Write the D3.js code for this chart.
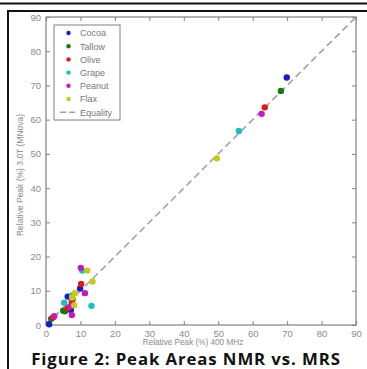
<!DOCTYPE html>
<html>
<head>
<meta charset="utf-8">
<script src="https://cdn.jsdelivr.net/npm/d3@7"></script>
<style>
  body { margin: 0; background: #fff; }
  svg { display: block; }
</style>
</head>
<body>
<div id="chart"></div>
<script>
// series names and colours (matplotlib classic)
const seriesNames = ['Cocoa', 'Tallow', 'Olive', 'Grape', 'Peanut', 'Flax'];
const seriesColors = ['#1a1acc', '#137a13', '#e01a1a', '#1ac0c0', '#c01ac0', '#c8c81a'];

// [400 MHz, 3.0T] pairs
const cocoa = [[69.9, 72.3], [9.9, 10.7], [6.3, 8.3], [7.2, 4.4], [0.9, 0.2]];
const tallow = [[68.2, 68.4], [7.7, 7.5], [5.5, 4.0], [5.0, 4.2], [1.5, 1.8]];
const olive = [[63.5, 63.6], [10.2, 12.0], [7.5, 6.8], [6.3, 4.9], [2.1, 2.3]];
const grape = [[56.0, 56.7], [10.5, 15.9], [13.2, 5.6], [7.6, 8.6], [5.3, 6.5]];
const peanut = [[62.6, 61.7], [10.1, 16.7], [11.3, 9.3], [7.0, 5.4], [7.5, 2.9], [2.4, 2.6]];
const flax = [[49.6, 48.7], [12.0, 15.9], [13.5, 12.7], [8.4, 9.3], [8.2, 5.8], [7.6, 8.0]];
const seriesValues = [cocoa, tallow, olive, grape, peanut, flax];

const tickValues = [0, 10, 20, 30, 40, 50, 60, 70, 80, 90];
const equality = [0, 90];

const W = 367, H = 369;
const m = { left: 46, top: 17, right: 356, bottom: 325 };

const svg = d3.select('#chart').append('svg')
  .attr('width', W)
  .attr('height', H);

// page frame lines
svg.append('line').attr('x1', 0).attr('x2', W).attr('y1', 3.5).attr('y2', 3.5)
  .attr('stroke', '#111').attr('stroke-width', 2);
svg.append('path').attr('d', `M8,${H} L8,11 L${W},11`)
  .attr('fill', 'none').attr('stroke', '#111').attr('stroke-width', 2);

const x = d3.scaleLinear().domain([0, 90]).range([m.left, m.right]);
const y = d3.scaleLinear().domain([0, 90]).range([m.bottom, m.top]);

const axisColor = '#808080';
const labelColor = '#8a8a8a';

function styleAxis(g, showLabels) {
  g.select('.domain').remove();
  g.selectAll('.tick line').attr('stroke', axisColor);
  g.selectAll('.tick text')
    .attr('fill', labelColor)
    .attr('font-family', 'Liberation Sans, Arial, sans-serif')
    .attr('font-size', 9.5)
    .style('display', showLabels ? null : 'none');
}

// bottom / left with labels, inward ticks
svg.append('g').attr('transform', `translate(0,${m.bottom})`)
  .call(d3.axisBottom(x).tickValues(tickValues).tickSizeInner(-4).tickSizeOuter(0).tickPadding(5))
  .call(g => styleAxis(g, true));
svg.append('g').attr('transform', `translate(${m.left},0)`)
  .call(d3.axisLeft(y).tickValues(tickValues).tickSizeInner(-4).tickSizeOuter(0).tickPadding(5))
  .call(g => styleAxis(g, true));
// top / right ticks only
svg.append('g').attr('transform', `translate(0,${m.top})`)
  .call(d3.axisTop(x).tickValues(tickValues).tickSizeInner(-4).tickSizeOuter(0))
  .call(g => styleAxis(g, false));
svg.append('g').attr('transform', `translate(${m.right},0)`)
  .call(d3.axisRight(y).tickValues(tickValues).tickSizeInner(-4).tickSizeOuter(0))
  .call(g => styleAxis(g, false));

// plot frame
svg.append('rect')
  .attr('x', m.left).attr('y', m.top)
  .attr('width', m.right - m.left).attr('height', m.bottom - m.top)
  .attr('fill', 'none').attr('stroke', axisColor).attr('stroke-width', 1.2);

// equality line
svg.append('line')
  .attr('x1', x(equality[0])).attr('y1', y(equality[0]))
  .attr('x2', x(equality[1])).attr('y2', y(equality[1]))
  .attr('stroke', '#a0a0a0').attr('stroke-width', 1.6)
  .attr('stroke-dasharray', '7,4');

// points
seriesValues.forEach((vals, i) => {
  svg.append('g').selectAll('circle')
    .data(vals)
    .enter().append('circle')
    .attr('cx', d => x(d[0]))
    .attr('cy', d => y(d[1]))
    .attr('r', 3.2)
    .attr('fill', seriesColors[i]);
});

// legend
const lg = svg.append('g').attr('transform', 'translate(54,25)');
lg.append('rect').attr('width', 66).attr('height', 95)
  .attr('fill', '#fff').attr('stroke', axisColor).attr('stroke-width', 1);
seriesNames.forEach((name, i) => {
  const yy = 8 + i * 13.2;
  lg.append('circle').attr('cx', 14.5).attr('cy', yy).attr('r', 2.2).attr('fill', seriesColors[i]);
  lg.append('text').attr('x', 26).attr('y', yy + 3.3).text(name)
    .attr('font-family', 'Liberation Sans, Arial, sans-serif').attr('font-size', 9)
    .attr('fill', '#777');
});
const ey = 8 + 6 * 13.2;
lg.append('line').attr('x1', 6).attr('x2', 22).attr('y1', ey).attr('y2', ey)
  .attr('stroke', '#a0a0a0').attr('stroke-width', 1.4).attr('stroke-dasharray', '6,3');
lg.append('text').attr('x', 26).attr('y', ey + 3.3).text('Equality')
  .attr('font-family', 'Liberation Sans, Arial, sans-serif').attr('font-size', 9)
  .attr('fill', '#777');

// axis titles
svg.append('text')
  .attr('x', 193).attr('y', 344.5)
  .attr('text-anchor', 'middle')
  .attr('font-family', 'Liberation Sans, Arial, sans-serif').attr('font-size', 8.2)
  .attr('fill', '#8a8a8a')
  .text('Relative Peak (%) 400 MHz');
svg.append('text')
  .attr('transform', 'translate(23,175) rotate(-90)')
  .attr('text-anchor', 'middle')
  .attr('font-family', 'Liberation Sans, Arial, sans-serif').attr('font-size', 8.5)
  .attr('fill', '#8a8a8a')
  .text('Relative Peak (%) 3.0T (MNova)');

// caption
svg.append('text')
  .attr('x', 186).attr('y', 364.5)
  .attr('text-anchor', 'middle')
  .attr('font-family', 'Open Sans, Liberation Sans, sans-serif')
  .attr('font-weight', 'bold').attr('font-size', 16.8)
  .attr('letter-spacing', 0.9)
  .attr('fill', '#111')
  .text('Figure 2: Peak Areas NMR vs. MRS');
</script>
</body>
</html>
